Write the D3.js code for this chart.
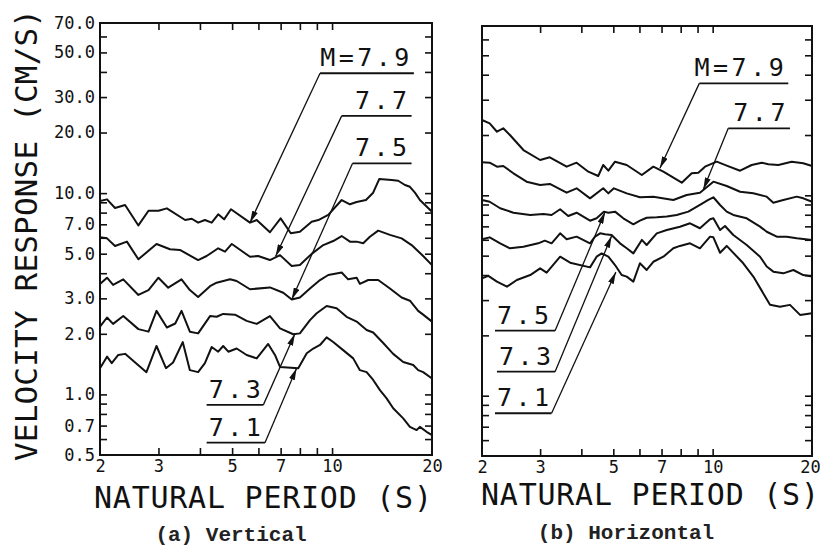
<!DOCTYPE html>
<html>
<head>
<meta charset="utf-8">
<script src="https://cdn.jsdelivr.net/npm/d3@7"></script>
<style>
  body { margin: 0; background: #fff; }
  svg { display: block; }
</style>
</head>
<body>
<div id="chart"></div>
<script>
// Velocity response spectra as [period (s), velocity (cm/s)]

const periodLabels = [2, 3, 5, 7, 10, 20];
const periodTicks = [3, 4, 5, 6, 7, 8, 9, 10];
const velocityLabels = [0.5, 0.7, 1, 2, 3, 5, 7, 10, 20, 30, 50, 70];
const velocityTicks = [0.6, 0.7, 0.8, 0.9, 1, 2, 3, 4, 5, 6, 7, 8, 9, 10, 20, 30, 40, 50, 60];

// (a) vertical
const vertical79 = [[2.00,9.13],[2.10,9.31],[2.22,8.43],[2.38,8.73],[2.61,6.91],[2.80,8.17],[3.00,8.17],[3.18,8.40],[3.61,7.35],[3.78,7.46],[3.95,7.13],[4.14,7.35],[4.34,7.13],[4.54,7.85],[4.73,7.41],[4.96,8.31],[5.66,7.13],[5.93,7.35],[6.50,6.39],[7.00,7.49],[7.51,6.32],[8.00,6.43],[8.68,7.21],[9.09,7.35],[9.74,7.79],[10.69,9.24],[11.32,8.80],[11.86,9.03],[12.65,9.24],[13.30,10.05],[13.87,11.74],[15.12,11.61],[15.82,11.52],[16.58,10.97],[17.16,10.75],[17.77,10.05],[18.39,9.24],[20.00,8.08]];
const vertical77 = [[2.00,6.03],[2.10,5.96],[2.22,5.46],[2.41,5.74],[2.61,4.69],[2.96,5.59],[3.25,5.26],[3.48,5.22],[3.95,4.65],[4.19,4.87],[4.54,5.32],[4.76,5.12],[4.99,5.59],[5.66,4.83],[5.99,4.87],[6.50,4.65],[6.97,4.92],[7.56,4.34],[8.00,4.39],[8.68,4.99],[9.41,5.52],[10.08,5.78],[10.69,6.12],[11.32,5.74],[11.86,5.74],[12.41,5.64],[13.00,6.07],[13.77,6.51],[14.94,6.20],[16.20,5.96],[17.36,5.52],[18.81,4.87],[20.00,4.39]];
const vertical75 = [[2.00,3.54],[2.10,3.80],[2.19,3.50],[2.35,3.73],[2.61,3.12],[2.80,3.30],[3.00,3.80],[3.21,3.39],[3.52,3.73],[3.73,3.30],[3.95,3.05],[4.29,3.45],[4.49,3.59],[4.93,3.73],[5.16,3.66],[5.66,3.33],[6.50,3.40],[7.13,3.20],[7.56,2.96],[8.00,3.03],[8.58,3.36],[9.20,3.70],[9.74,3.92],[10.69,4.03],[11.18,3.73],[11.86,3.80],[12.13,3.54],[12.85,3.70],[13.77,3.70],[14.94,3.36],[16.20,3.03],[17.16,2.92],[18.17,2.60],[18.81,2.49],[20.00,2.30]];
const vertical73 = [[2.00,2.17],[2.10,2.41],[2.19,2.24],[2.35,2.45],[2.61,2.11],[2.80,2.05],[2.96,2.60],[3.18,2.15],[3.37,2.25],[3.52,2.60],[3.73,2.05],[3.95,2.01],[4.29,2.45],[4.49,2.43],[4.70,2.51],[5.10,2.49],[5.53,2.32],[5.93,2.24],[6.50,2.45],[6.97,2.13],[7.64,1.99],[8.00,2.01],[8.58,2.34],[8.99,2.53],[9.63,2.75],[10.32,2.68],[11.06,2.43],[11.86,2.30],[12.71,2.09],[13.30,2.03],[14.26,1.80],[15.28,1.59],[16.38,1.45],[17.56,1.40],[18.17,1.32],[18.81,1.29],[20.00,1.20]];
const vertical71 = [[2.00,1.35],[2.10,1.54],[2.17,1.43],[2.27,1.57],[2.38,1.59],[2.76,1.29],[2.96,1.74],[3.16,1.35],[3.32,1.44],[3.55,1.82],[3.73,1.32],[3.95,1.29],[4.14,1.43],[4.34,1.72],[4.54,1.63],[4.70,1.74],[4.87,1.63],[5.16,1.69],[5.53,1.57],[5.93,1.51],[6.42,1.78],[6.73,1.57],[6.97,1.37],[7.91,1.35],[8.39,1.60],[8.78,1.69],[9.20,1.76],[9.63,1.92],[10.08,1.82],[10.80,1.66],[11.58,1.51],[12.13,1.32],[12.71,1.29],[13.30,1.18],[13.94,1.05],[14.60,0.956],[15.28,0.853],[16.38,0.760],[17.16,0.690],[17.98,0.665],[18.39,0.690],[19.26,0.652],[20.00,0.628]];

// (b) horizontal
const horizontal79 = [[2.00,23.76],[2.11,22.87],[2.22,20.77],[2.32,21.60],[2.43,20.00],[2.67,16.83],[3.00,15.01],[3.21,15.48],[3.61,13.90],[3.87,14.55],[4.20,13.12],[4.50,12.49],[4.66,14.17],[4.83,13.27],[5.06,14.72],[5.49,14.17],[6.10,12.63],[6.61,13.90],[7.09,13.12],[8.06,11.56],[8.64,12.88],[9.05,12.97],[9.48,13.90],[10.29,14.72],[11.03,14.06],[12.11,13.27],[13.13,14.17],[14.08,14.55],[14.75,14.30],[15.81,14.17],[17.36,14.72],[18.82,14.45],[20.00,14.01]];
const horizontal77 = [[2.00,14.62],[2.11,14.55],[2.22,13.90],[2.32,14.01],[2.49,12.88],[2.73,11.70],[3.00,11.27],[3.21,11.40],[3.61,10.31],[3.87,10.84],[4.25,9.66],[4.66,10.84],[4.83,10.23],[5.02,10.84],[5.49,10.23],[6.02,9.78],[6.61,9.85],[7.60,9.48],[8.34,10.04],[9.15,10.31],[10.05,11.70],[11.03,11.13],[12.11,10.42],[13.28,10.23],[14.58,9.85],[15.27,9.19],[16.37,9.48],[17.98,9.85],[18.82,9.66],[20.00,9.29]];
const horizontal75 = [[2.00,9.48],[2.11,9.29],[2.27,8.62],[2.49,8.19],[2.80,7.98],[3.07,8.07],[3.25,7.98],[3.45,8.52],[3.65,7.89],[3.87,8.19],[4.25,7.47],[4.45,7.68],[4.68,8.29],[4.83,8.19],[5.06,8.29],[5.36,7.68],[5.75,7.17],[6.02,7.47],[6.31,7.73],[6.77,7.77],[7.26,7.83],[7.78,7.98],[8.44,8.29],[9.15,8.95],[9.70,9.48],[10.05,9.78],[10.53,8.95],[11.03,8.29],[11.55,7.98],[12.68,7.68],[13.92,6.98],[14.58,6.58],[15.64,6.22],[16.76,6.22],[17.98,6.10],[20.00,5.99]];
const horizontal73 = [[2.00,6.03],[2.11,6.17],[2.27,5.76],[2.43,5.44],[2.67,5.54],[2.96,5.76],[3.10,5.94],[3.25,5.76],[3.45,6.46],[3.61,6.03],[3.87,6.22],[4.25,5.76],[4.40,6.22],[4.56,6.46],[4.72,6.39],[4.94,6.34],[5.24,5.76],[5.49,5.44],[5.75,5.13],[6.10,5.99],[6.31,5.65],[6.77,6.46],[7.26,6.71],[7.96,6.97],[8.54,7.25],[9.15,6.85],[9.82,7.59],[10.05,7.68],[10.53,6.71],[10.90,7.03],[11.55,6.34],[12.68,5.65],[13.92,4.94],[14.58,4.41],[15.27,4.16],[16.37,4.08],[17.56,4.24],[18.82,4.00],[20.00,3.93]];
const horizontal71 = [[2.00,3.85],[2.09,3.96],[2.22,3.71],[2.38,3.50],[2.55,3.78],[2.80,4.00],[3.00,4.32],[3.14,4.11],[3.45,4.94],[3.70,4.61],[4.25,4.37],[4.45,4.94],[4.61,5.13],[4.83,4.94],[5.06,4.49],[5.30,4.00],[5.49,3.93],[5.75,3.71],[6.02,4.58],[6.31,4.24],[6.61,4.66],[7.09,4.94],[7.60,5.44],[7.96,5.59],[8.54,5.76],[9.15,5.44],[9.82,6.22],[10.05,6.17],[10.53,5.17],[11.03,5.59],[12.38,4.58],[13.28,3.93],[14.24,3.24],[14.92,2.84],[16.00,2.78],[17.15,2.84],[18.40,2.53],[20.00,2.58]];

// magnitude labels: underline from/to period at a velocity level, arrow to a point on the curve
const verticalNotes = [
  {label: "M=7.9", from: 9.20, to: 17.64, level: 39.4, tip: [5.66, 7.13], side: "left"},
  {label: "7.7", from: 10.69, to: 17.36, level: 24.2, tip: [6.76, 4.85], side: "left"},
  {label: "7.5", from: 11.53, to: 17.36, level: 14.06, tip: [7.56, 2.96], side: "left"},
  {label: "7.3", from: 4.19, to: 6.21, level: 0.887, tip: [7.73, 2.00], side: "right"},
  {label: "7.1", from: 4.19, to: 6.28, level: 0.576, tip: [7.82, 1.35], side: "right"}
];
const horizontalNotes = [
  {label: "M=7.9", from: 9.11, to: 16.95, level: 36.2, tip: [6.92, 13.64], side: "left"},
  {label: "7.7", from: 11.15, to: 17.15, level: 21.6, tip: [9.37, 10.7], side: "left"},
  {label: "7.5", from: 2.19, to: 3.33, level: 2.11, tip: [4.72, 8.26], side: "right"},
  {label: "7.3", from: 2.22, to: 3.33, level: 1.318, tip: [4.94, 6.27], side: "right"},
  {label: "7.1", from: 2.19, to: 3.25, level: 0.817, tip: [5.09, 4.14], side: "right"}
];

const width = 821, height = 550;
const mono = "'DejaVu Sans Mono', monospace";

const svg = d3.select("#chart")
    .append("svg")
    .attr("width", width)
    .attr("height", height)
    .style("background", "#fff");

svg.append("defs").append("marker")
    .attr("id", "arrow")
    .attr("viewBox", "0 0 12 6")
    .attr("refX", 12)
    .attr("refY", 3)
    .attr("markerWidth", 12)
    .attr("markerHeight", 6)
    .attr("markerUnits", "userSpaceOnUse")
    .attr("orient", "auto")
    .append("path")
    .attr("d", "M0,0 L12,3 L0,6 Z")
    .attr("fill", "#111");

function drawPanel(p) {
    const g = svg.append("g");

    const xScale = d3.scaleLog().domain([2, 20]).range([p.left, p.right]);
    const yScale = d3.scaleLog().domain([0.5, 70]).range([p.bottom, p.top]);

    // inward ticks on all four sides
    const tickAxes = [
        [d3.axisBottom(xScale).tickValues(periodTicks), `translate(0,${p.bottom})`],
        [d3.axisTop(xScale).tickValues(periodTicks), `translate(0,${p.top})`],
        [d3.axisLeft(yScale).tickValues(velocityTicks), `translate(${p.left},0)`],
        [d3.axisRight(yScale).tickValues(velocityTicks), `translate(${p.right},0)`]
    ];
    tickAxes.forEach(([axis, tr]) => {
        const a = g.append("g")
            .attr("transform", tr)
            .call(axis.tickSize(-7).tickFormat(""));
        a.select(".domain").remove();
        a.selectAll("line").attr("stroke", "#111").attr("stroke-width", 1.6);
    });

    // tick labels
    const xl = g.append("g")
        .attr("transform", `translate(0,${p.bottom})`)
        .call(d3.axisBottom(xScale).tickValues(periodLabels).tickSize(0).tickPadding(5).tickFormat(d3.format("d")))
        .attr("font-family", mono)
        .attr("font-size", "17px");
    xl.select(".domain").remove();
    xl.selectAll("text").attr("fill", "#111");
    // keep the last label inside the page
    xl.selectAll("text").filter(d => d === 20).attr("dx", p.lastShift);

    if (p.yLabels) {
        const yl = g.append("g")
            .attr("transform", `translate(${p.left},0)`)
            .call(d3.axisLeft(yScale).tickValues(velocityLabels).tickSize(0).tickPadding(5).tickFormat(d3.format(".1f")))
            .attr("font-family", mono)
            .attr("font-size", "17px");
        yl.select(".domain").remove();
        yl.selectAll("text").attr("fill", "#111");
    }

    // frame
    g.append("rect")
        .attr("x", p.left)
        .attr("y", p.top)
        .attr("width", p.right - p.left)
        .attr("height", p.bottom - p.top)
        .attr("fill", "none")
        .attr("stroke", "#111")
        .attr("stroke-width", 2);

    // spectra
    const line = d3.line()
        .x(d => xScale(d[0]))
        .y(d => yScale(d[1]));

    g.selectAll("path.spectrum")
        .data(p.series)
        .enter()
        .append("path")
        .attr("class", "spectrum")
        .attr("d", line)
        .attr("fill", "none")
        .attr("stroke", "#111")
        .attr("stroke-width", 2)
        .attr("stroke-linejoin", "round");

    // magnitude labels with leaders
    p.notes.forEach(n => {
        const x0 = xScale(n.from), x1 = xScale(n.to), yl = yScale(n.level);
        g.append("line")
            .attr("x1", x0).attr("x2", x1)
            .attr("y1", yl).attr("y2", yl)
            .attr("stroke", "#111")
            .attr("stroke-width", 1.8);
        const sx = n.side === "left" ? x0 : x1;
        g.append("line")
            .attr("x1", sx).attr("y1", yl)
            .attr("x2", xScale(n.tip[0])).attr("y2", yScale(n.tip[1]))
            .attr("stroke", "#111")
            .attr("stroke-width", 1.3)
            .attr("marker-end", "url(#arrow)");
        g.append("text")
            .attr("x", n.side === "left" ? x1 - 1 : x0 + 2)
            .attr("y", yl - 7)
            .attr("text-anchor", n.side === "left" ? "end" : "start")
            .attr("font-family", mono)
            .attr("font-size", "25px")
            .attr("letter-spacing", "3.5px")
            .attr("fill", "#111")
            .text(n.label);
    });

    // axis title and caption
    g.append("text")
        .attr("x", (p.left + p.right) / 2 + p.titleShift)
        .attr("y", p.titleY)
        .attr("text-anchor", "middle")
        .attr("font-family", mono)
        .attr("font-size", "30px")
        .attr("textLength", 338)
        .attr("lengthAdjust", "spacing")
        .attr("fill", "#111")
        .text("NATURAL PERIOD (S)");

    g.append("text")
        .attr("x", p.captionX)
        .attr("y", p.captionY)
        .attr("text-anchor", "middle")
        .attr("font-family", "'Liberation Mono', 'Courier New', monospace")
        .attr("font-weight", "bold")
        .attr("font-size", "21px")
        .attr("fill", "#222")
        .text(p.caption);
}

drawPanel({
    left: 100, right: 432, top: 23, bottom: 455,
    yLabels: true, lastShift: 0,
    series: [vertical79, vertical77, vertical75, vertical73, vertical71],
    notes: verticalNotes,
    titleShift: -3, titleY: 508,
    caption: "(a) Vertical", captionX: 231, captionY: 541
});

drawPanel({
    left: 482, right: 812, top: 26, bottom: 456,
    yLabels: false, lastShift: -2,
    series: [horizontal79, horizontal77, horizontal75, horizontal73, horizontal71],
    notes: horizontalNotes,
    titleShift: 3, titleY: 505,
    caption: "(b) Horizontal", captionX: 626, captionY: 539
});

// shared y-axis title
svg.append("text")
    .attr("transform", "translate(37,235) rotate(-90)")
    .attr("text-anchor", "middle")
    .attr("font-family", mono)
    .attr("font-size", "31px")
    .attr("textLength", 452)
    .attr("lengthAdjust", "spacing")
    .attr("fill", "#111")
    .text("VELOCITY RESPONSE (CM/S)");
</script>
</body>
</html>
